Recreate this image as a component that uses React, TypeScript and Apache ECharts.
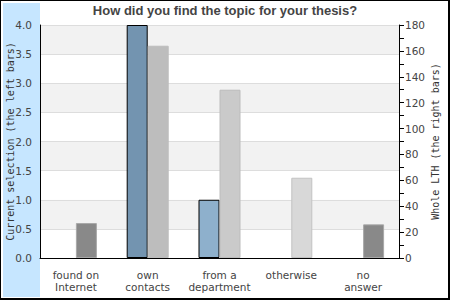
import { useEffect, useRef } from "react";
import * as echarts from "echarts";

const title = "How did you find the topic for your thesis?";
const categories = ["found on\nInternet", "own\ncontacts", "from a\ndepartment", "otherwise", "no\nanswer"];
const currentSelection = [0, 4.0, 1.0, 0, 0];
const wholeLTH = [27, 164, 130, 62, 26];
const leftAxisName = "Current selection (the left bars)";
const rightAxisName = "Whole LTH (the right bars)";

const leftFill = ["#7394b0", "#7394b0", "#8eb0cc", "#8eb0cc", "#8eb0cc"];
const rightFill = ["#898989", "#bdbdbd", "#cacaca", "#d8d8d8", "#898989"];
const rightBorder = ["#a8a8a8", "#bdbdbd", "#bcbcbc", "#c2c2c2", "#a8a8a8"];

export default function App() {
  const ref = useRef<HTMLDivElement>(null);
  useEffect(() => {
    document.body.style.margin = "0";
    const chart = echarts.init(ref.current!, undefined, { renderer: "svg" });
    const labelFont = { fontFamily: "DejaVu Sans", fontSize: 10.5, color: "#444" };
    chart.setOption({
      animation: false,
      backgroundColor: "#ffffff",
      title: {
        text: title,
        left: "center",
        top: 4,
        padding: 0,
        textStyle: { fontFamily: "Liberation Sans", fontWeight: "bold", fontSize: 13, color: "#444" },
      },
      graphic: [
        { type: "rect", z: -10, shape: { x: 3, y: 3, width: 37, height: 294 }, style: { fill: "#c6e6ff" } },
        { type: "rect", z: 100, shape: { x: 0, y: 0, width: 449, height: 299 }, style: { fill: "none", stroke: "#000", lineWidth: 2 } },
      ],
      grid: { left: 40, top: 25, right: 51, bottom: 42, containLabel: false, outerBoundsMode: "none" },
      xAxis: {
        type: "category",
        data: categories,
        axisLine: { lineStyle: { color: "#000", width: 1 } },
        axisTick: { show: false },
        axisLabel: { ...labelFont, margin: 11, lineHeight: 12, interval: 0 },
      },
      yAxis: [
        {
          type: "value",
          min: 0,
          max: 4,
          interval: 0.5,
          position: "left",
          name: leftAxisName,
          nameLocation: "middle",
          nameRotate: 90,
          nameGap: 25,
          nameMoveOverlap: false,
          nameTextStyle: { fontFamily: "DejaVu Sans Mono", fontSize: 10, color: "#333" },
          axisLine: { show: true, lineStyle: { color: "#000", width: 1 } },
          axisTick: { show: false },
          axisLabel: { ...labelFont, margin: 8, formatter: (v: number) => v.toFixed(1) },
          splitLine: { show: true, lineStyle: { color: "#dddddd", width: 1 } },
          splitArea: { show: true, areaStyle: { color: ["#ffffff", "#f2f2f2"] } },
        },
        {
          type: "value",
          min: 0,
          max: 180,
          interval: 20,
          position: "right",
          name: rightAxisName,
          nameLocation: "middle",
          nameRotate: 90,
          nameGap: 31,
          nameMoveOverlap: false,
          nameTextStyle: { fontFamily: "DejaVu Sans Mono", fontSize: 10, color: "#333" },
          axisLine: { show: true, lineStyle: { color: "#000", width: 1 } },
          axisTick: { show: true, length: 5, lineStyle: { color: "#000" } },
          minorTick: { show: true, splitNumber: 2, length: 5, lineStyle: { color: "#000" } },
          axisLabel: { ...labelFont, margin: 6 },
          splitLine: { show: false },
        },
      ],
      series: [
        {
          type: "bar",
          yAxisIndex: 0,
          barWidth: 21,
          barGap: "0%",
          data: currentSelection.map((v, i) => ({
            value: v,
            itemStyle: { color: leftFill[i], borderColor: "#000", borderWidth: v === 0 ? 0 : 1 },
          })),
        },
        {
          type: "bar",
          yAxisIndex: 1,
          barWidth: 21,
          barGap: "0%",
          data: wholeLTH.map((v, i) => ({
            value: v,
            itemStyle: { color: rightFill[i], borderColor: rightBorder[i], borderWidth: v === 0 ? 0 : 1 },
          })),
        },
      ],
    });
    return () => chart.dispose();
  }, []);
  return <div ref={ref} style={{ width: 450, height: 300 }} />;
}
